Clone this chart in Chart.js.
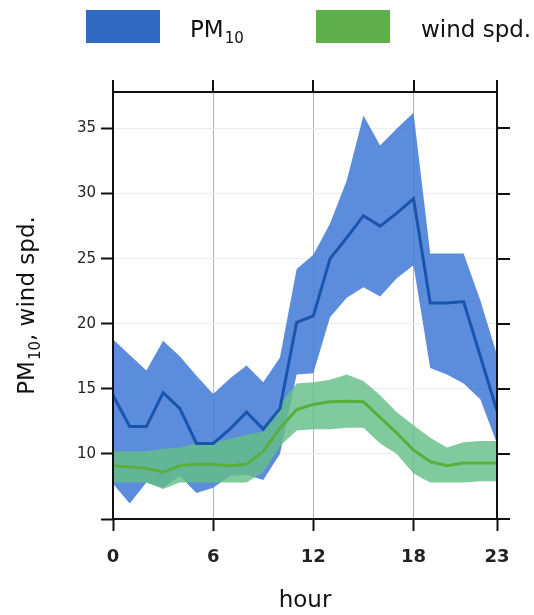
<!DOCTYPE html>
<html>
<head>
<meta charset="utf-8">
<title>PM10 and wind speed by hour</title>
<script src="https://cdn.jsdelivr.net/npm/chart.js@4.4.1/dist/chart.umd.min.js"></script>
<style>
  html, body { margin: 0; padding: 0; background: #ffffff; }
  #wrap { width: 534px; height: 615px; position: relative; }
</style>
</head>
<body>
<div id="wrap"><canvas id="chart" width="534" height="615"></canvas></div>
<script>
// Hour of day
const hours = [0, 1, 2, 3, 4, 5, 6, 7, 8, 9, 10, 11, 12, 13, 14, 15, 16, 17, 18, 19, 20, 21, 22, 23];

// PM10: mean with lower / upper confidence limits
const pmMean  = [14.5, 12.1, 12.1, 14.7, 13.5, 10.8, 10.8, 11.9, 13.2, 11.9, 13.5, 20.1, 20.6, 25.0, 26.6, 28.3, 27.5, 28.5, 29.6, 21.6, 21.6, 21.7, 17.5, 13.3];
const pmUpper = [18.8, 17.6, 16.4, 18.7, 17.5, 16.0, 14.6, 15.8, 16.8, 15.5, 17.4, 24.2, 25.3, 27.7, 31.0, 36.0, 33.7, 35.0, 36.2, 25.4, 25.4, 25.4, 21.8, 17.6];
const pmLower = [7.7, 6.2, 7.8, 7.4, 8.3, 7.0, 7.4, 8.3, 8.4, 8.0, 10.0, 16.1, 16.2, 20.5, 22.0, 22.8, 22.1, 23.5, 24.5, 16.6, 16.1, 15.4, 14.2, 10.8];

// Wind speed: mean with lower / upper confidence limits
const windMean  = [9.1, 9.0, 8.9, 8.6, 9.1, 9.2, 9.2, 9.1, 9.2, 10.2, 12.0, 13.4, 13.8, 14.0, 14.05, 14.0, 12.8, 11.6, 10.3, 9.4, 9.1, 9.3, 9.3, 9.3];
const windUpper = [10.2, 10.2, 10.2, 10.4, 10.5, 10.8, 10.9, 11.15, 11.5, 11.7, 13.8, 15.4, 15.5, 15.7, 16.1, 15.6, 14.5, 13.2, 12.2, 11.25, 10.5, 10.9, 11.0, 11.0];
const windLower = [7.8, 7.8, 7.8, 7.3, 7.8, 7.8, 7.8, 7.8, 7.8, 8.6, 10.6, 11.8, 11.9, 11.9, 12.0, 12.0, 10.8, 10.0, 8.5, 7.8, 7.8, 7.8, 7.9, 7.9];

// Axis ticks
const xTicks = [0, 6, 12, 18, 23];
const yTicks = [5, 10, 15, 20, 25, 30, 35];
const yLabelled = [10, 15, 20, 25, 30, 35];

const FONT = '"DejaVu Sans", Verdana, sans-serif';
const BLUE_BAND = 'rgba(70,125,215,0.88)';
const BLUE_LINE = '#1a55ad';
const GREEN_BAND = 'rgba(100,190,135,0.82)';
const GREEN_LINE = '#5aaf3c';
const LEGEND_BLUE = '#2f69c2';
const LEGEND_GREEN = '#5fb04c';

const pts = arr => hours.map((h, i) => ({ x: h, y: arr[i] }));

function bandSet(label, arr, color, fillTarget, order) {
  return {
    label, data: pts(arr), borderWidth: 0, pointRadius: 0, tension: 0,
    backgroundColor: color, fill: fillTarget, order
  };
}
function lineSet(label, arr, color, order) {
  return {
    label, data: pts(arr), borderColor: color, borderWidth: 3, pointRadius: 0,
    tension: 0, fill: false, order, borderJoinStyle: 'miter'
  };
}

// Draws "PM" with a subscripted "10" followed by optional trailing text,
// starting at (x, y) on the alphabetic baseline; returns the end x.
function drawPM10(ctx, x, y, size, subSize, tail) {
  ctx.font = size + 'px ' + FONT;
  ctx.fillText('PM', x, y);
  x += ctx.measureText('PM').width;
  ctx.font = subSize + 'px ' + FONT;
  ctx.fillText('10', x + 1, y + size * 0.26);
  x += ctx.measureText('10').width + 1;
  if (tail) {
    ctx.font = size + 'px ' + FONT;
    ctx.fillText(tail, x, y);
    x += ctx.measureText(tail).width;
  }
  return x;
}

const decorations = {
  id: 'decorations',
  afterDraw(chart) {
    const ctx = chart.ctx;
    const a = chart.chartArea;
    const xs = chart.scales.x, ys = chart.scales.y;
    ctx.save();
    ctx.strokeStyle = '#111';
    ctx.lineWidth = 2;
    // panel frame
    ctx.strokeRect(a.left, a.top, a.right - a.left, a.bottom - a.top);
    // mirrored tick marks on top and right
    ctx.beginPath();
    xTicks.forEach(v => {
      const px = Math.round(xs.getPixelForValue(v));
      ctx.moveTo(px, a.top);
      ctx.lineTo(px, a.top - 12);
    });
    yTicks.forEach(v => {
      const py = Math.round(ys.getPixelForValue(v));
      ctx.moveTo(a.right, py);
      ctx.lineTo(a.right + 13, py);
    });
    ctx.stroke();

    ctx.textBaseline = 'alphabetic';
    ctx.textAlign = 'left';

    // legend
    ctx.fillStyle = LEGEND_BLUE;
    ctx.fillRect(86, 10, 74, 33);
    ctx.fillStyle = LEGEND_GREEN;
    ctx.fillRect(316, 10, 74, 33);
    ctx.fillStyle = '#111';
    drawPM10(ctx, 190, 37, 23, 15);
    ctx.font = '23px ' + FONT;
    ctx.fillText('wind spd.', 421, 37);

    // x axis title
    ctx.font = '23px ' + FONT;
    ctx.textAlign = 'center';
    ctx.fillText('hour', (a.left + a.right) / 2, 607);

    // y axis title (rotated, with subscript)
    ctx.textAlign = 'left';
    ctx.font = '23px ' + FONT;
    const head = ctx.measureText('PM').width;
    const tailW = ctx.measureText(', wind spd.').width;
    ctx.font = '15px ' + FONT;
    const subW = ctx.measureText('10').width + 1;
    const total = head + subW + tailW;
    ctx.translate(34, (a.top + a.bottom) / 2 + total / 2);
    ctx.rotate(-Math.PI / 2);
    drawPM10(ctx, 0, 0, 23, 15, ', wind spd.');
    ctx.restore();
  }
};

new Chart(document.getElementById('chart'), {
  type: 'line',
  data: {
    datasets: [
      bandSet('PM10 upper', pmUpper, BLUE_BAND, '+1', 40),
      bandSet('PM10 lower', pmLower, 'rgba(0,0,0,0)', false, 39),
      bandSet('wind upper', windUpper, GREEN_BAND, '+1', 30),
      bandSet('wind lower', windLower, 'rgba(0,0,0,0)', false, 29),
      lineSet('PM10', pmMean, BLUE_LINE, 20),
      lineSet('wind spd.', windMean, GREEN_LINE, 10)
    ]
  },
  options: {
    responsive: false,
    animation: false,
    events: [],
    layout: { padding: { top: 92, right: 37, left: 0, bottom: 0 } },
    plugins: { legend: { display: false }, tooltip: { enabled: false }, title: { display: false } },
    scales: {
      x: {
        type: 'linear', min: 0, max: 23,
        afterBuildTicks: s => { s.ticks = xTicks.map(v => ({ value: v })); },
        afterFit: s => { s.height = 96; },
        ticks: { font: { family: FONT, size: 18, weight: 'bold' }, color: '#222', padding: 16, maxRotation: 0 },
        grid: {
          color: c => (c.tick && (c.tick.value === 0 || c.tick.value === 23)) ? 'rgba(0,0,0,0)' : '#b4b4b4',
          lineWidth: 1, tickColor: '#111', tickLength: 12, tickWidth: 2
        },
        border: { display: false }
      },
      y: {
        type: 'linear', min: 5, max: 37.8,
        afterBuildTicks: s => { s.ticks = yTicks.map(v => ({ value: v })); },
        afterFit: s => { s.width = 113; },
        ticks: {
          font: { family: FONT, size: 15 }, color: '#222', padding: 5,
          callback: v => yLabelled.includes(v) ? String(v) : ''
        },
        grid: { color: '#ececec', lineWidth: 1, tickColor: '#111', tickLength: 12, tickWidth: 2 },
        border: { display: false }
      }
    }
  },
  plugins: [decorations]
});
</script>
</body>
</html>
